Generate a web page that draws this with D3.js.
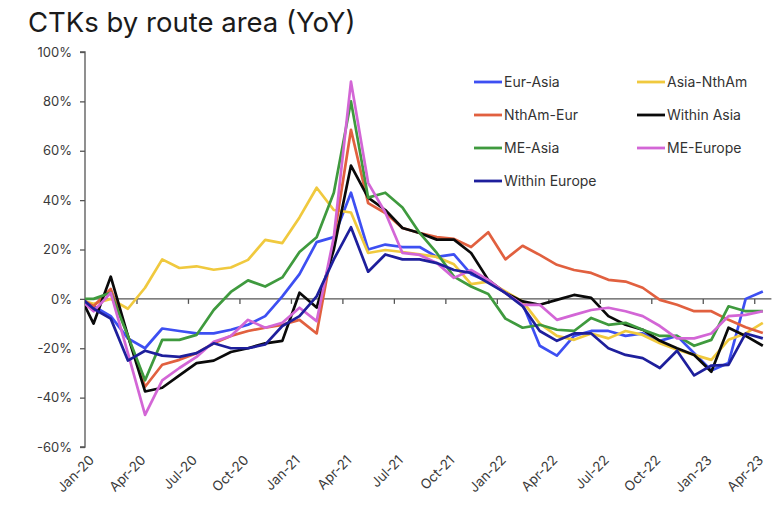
<!DOCTYPE html>
<html>
<head>
<meta charset="utf-8">
<script src="https://cdn.jsdelivr.net/npm/d3@7/dist/d3.min.js"></script>
<style>
  html, body { margin: 0; padding: 0; background: #fff; }
  svg { display: block; font-family: "Inter", "Roboto", "Liberation Sans", sans-serif; }
</style>
</head>
<body>
<svg id="chart" width="784" height="507"></svg>
<script>
// Months: Dec-19 (partly outside the axis) .. Apr-23, plotted mid-month
const months = ["Dec-19","Jan-20","Feb-20","Mar-20","Apr-20","May-20","Jun-20","Jul-20","Aug-20","Sep-20","Oct-20","Nov-20","Dec-20",
  "Jan-21","Feb-21","Mar-21","Apr-21","May-21","Jun-21","Jul-21","Aug-21","Sep-21","Oct-21","Nov-21","Dec-21",
  "Jan-22","Feb-22","Mar-22","Apr-22","May-22","Jun-22","Jul-22","Aug-22","Sep-22","Oct-22","Nov-22","Dec-22",
  "Jan-23","Feb-23","Mar-23","Apr-23"];
const tickLabels = ["Jan-20","Apr-20","Jul-20","Oct-20","Jan-21","Apr-21","Jul-21","Oct-21","Jan-22","Apr-22","Jul-22","Oct-22","Jan-23","Apr-23"];
const yTicks = [100, 80, 60, 40, 20, 0, -20, -40, -60];

const seriesNames = ["Eur-Asia","Asia-NthAm","NthAm-Eur","Within Asia","ME-Asia","ME-Europe","Within Europe"];
const seriesColors = ["#3d4ff2","#f0c93e","#e1603f","#0a0a0a","#3f9a3e","#d366d6","#1e1f9c"];

const eurAsia = [1,-3,-7,-16,-20,-12,-13,-14,-14,-12.5,-10.5,-7,1,
  10,23,25,43,20,22,21,21,17,18,10,7,
  2.5,-2,-19,-23,-15,-13,-13,-15,-14,-17,-15,-22,
  -29,-26,0,3];
const asiaNthAm = [0,-2,0,-4,4.5,16,12.5,13.2,11.8,12.7,15.8,23.9,22.6,
  33,45,36,35,18.6,19.8,19,18,17,14,6,7,
  3,-1,-10,-15,-16.6,-14,-16,-13,-14.6,-18,-20.6,-22.7,
  -24.7,-16.6,-14,-9.7];
const nthAmEur = [1,-3,4,-15,-35.6,-26.7,-24.7,-22,-18,-15,-13,-11.7,-10.5,
  -8.5,-14,24,68.5,38.8,34.8,28.7,26.7,25,24.3,21,27,
  16,21.5,17.8,13.8,11.7,10.5,7.7,7,4.5,-0.4,-2.4,-5,
  -5,-8.5,-11.5,-13.8];
const withinAsia = [4,-10,9,-15,-37.5,-36,-31,-26,-25,-21.5,-20,-18,-17,
  2.5,-3.5,20,54,41,36,28.7,26.7,24,24,18.6,7.7,
  2.4,-1,-2.4,-0.4,1.6,0.4,-7,-10.5,-12.5,-17,-20,-22.7,
  -29.5,-11.7,-15,-19];
const meAsia = [0,0,2.5,-15,-33,-16.6,-16.6,-14.6,-4.5,2.8,7.5,5,8.7,
  19,25,43,80,41,43,37,26.7,18.6,9,5,2,
  -8,-11.7,-10.5,-12.5,-13,-7.7,-10.5,-9.7,-12.5,-15,-15,-19,
  -16.6,-3,-5,-5];
const meEurope = [1,-5,2.4,-22,-47,-33,-28,-23.5,-17.4,-15,-8.5,-11.7,-9.7,
  -3.6,-9,25,88,47,35,18.6,17.8,14.5,8.5,11.7,7.7,
  2.4,-2.4,-2.4,-8.5,-6.5,-4.5,-3.6,-5,-7,-11,-16,-16,
  -14,-7,-6.5,-5];
const withinEurope = [2,-4,-8,-25,-21,-23,-23.5,-22,-18,-20,-20,-18.5,-11,
  -7,1,16,29,11,18,16,16,14.5,11.7,10.5,6.5,
  2.4,-3,-13,-17,-14,-14,-20,-22.7,-24,-28,-21,-31,
  -27,-26.7,-14,-16];
const seriesValues = [eurAsia, asiaNthAm, nthAmEur, withinAsia, meAsia, meEurope, withinEurope];

const svg = d3.select("#chart");
const x0 = 85, x1 = 771.4;
// x domain in months since 1 Jan 2020; data sit mid-month
const x = d3.scaleLinear().domain([0, 40]).range([x0, x1]);
const y = d3.scaleLinear().domain([-60, 100]).range([447, 52]);
const monthPos = i => i - 0.5; // index 0 = Dec-19

// Title
svg.append("text").attr("x", 28).attr("y", 32)
  .attr("font-size", 27.5).attr("fill", "#1b1b1b")
  .text("CTKs by route area (YoY)");

// Y axis
const yAxis = d3.axisLeft(y).tickValues(yTicks).tickSize(5).tickFormat(d => d + "%");
const gy = svg.append("g").attr("transform", `translate(${x0},0)`).call(yAxis);
gy.select(".domain").attr("stroke", "#555").attr("stroke-width", 1.3).attr("d", `M-5,${y(100)}H0V${y(-60)}H-5`);
gy.selectAll(".tick line").attr("stroke", "#555").attr("stroke-width", 1.3);
gy.selectAll(".tick text").attr("font-size", 13).attr("fill", "#3a3a3a").attr("x", -13)
  .attr("font-family", "Inter, Roboto, sans-serif");

// X axis (line at 0%)
const tickIdx = tickLabels.map((d, k) => k * 3);
const xAxis = d3.axisBottom(x).tickValues(tickIdx).tickSize(5).tickFormat("");
const gx = svg.append("g").attr("transform", `translate(0,${y(0)})`).call(xAxis);
gx.select(".domain").attr("stroke", "#555").attr("stroke-width", 1.3).attr("d", `M${x0},0H${x1}`);
gx.selectAll(".tick line").attr("stroke", "#555").attr("stroke-width", 1.3);

// X tick labels, rotated at the bottom
svg.append("g").selectAll("text").data(tickLabels).join("text")
  .attr("transform", (d, k) => `translate(${x(tickIdx[k]) + 10},${y(-60) + 14}) rotate(-45)`)
  .attr("text-anchor", "end")
  .attr("font-size", 13.5).attr("fill", "#3a3a3a")
  .text(d => d);

// Clip
svg.append("clipPath").attr("id", "plotclip").append("rect")
  .attr("x", x0).attr("y", 0).attr("width", x1 - x0).attr("height", 507);

const line = d3.line().x((d, i) => x(monthPos(i))).y(d => y(d));
const gl = svg.append("g").attr("clip-path", "url(#plotclip)");
seriesValues.forEach((vals, s) => {
  gl.append("path").datum(vals).attr("d", line)
    .attr("fill", "none").attr("stroke", seriesColors[s])
    .attr("stroke-width", 2.7).attr("stroke-linejoin", "round");
});

// Legend
const legX = [474, 637], legY = [82, 115, 148, 181];
const leg = svg.append("g");
seriesNames.forEach((name, s) => {
  const cx = legX[s % 2], cy = legY[Math.floor(s / 2)];
  leg.append("line").attr("x1", cx).attr("x2", cx + 28).attr("y1", cy).attr("y2", cy)
    .attr("stroke", seriesColors[s]).attr("stroke-width", 2.8);
  leg.append("text").attr("x", cx + 30).attr("y", cy + 5)
    .attr("font-size", 14).attr("fill", "#333").text(name);
});
</script>
</body>
</html>
